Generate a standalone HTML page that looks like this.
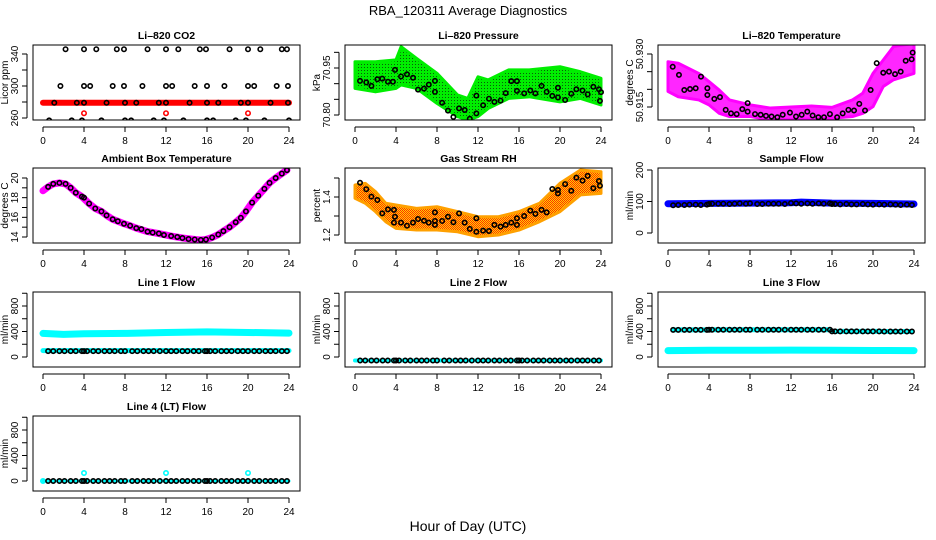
<!DOCTYPE html>
<html><head><meta charset="utf-8">
<style>
html,body{margin:0;padding:0;background:#fff;}
svg{display:block;font-family:"Liberation Sans",Arial,sans-serif;}
</style></head>
<body>
<svg id="chart" width="936" height="540" viewBox="0 0 936 540" xmlns="http://www.w3.org/2000/svg">
<defs>
<pattern id="greenDots" width="3" height="3" patternUnits="userSpaceOnUse"><rect width="3" height="3" fill="#00ee00"/><rect x="1" y="1" width="1" height="1" fill="#0a5a0a"/></pattern>
<pattern id="orangeDots" width="2" height="2" patternUnits="userSpaceOnUse"><rect width="2" height="2" fill="#ffd000"/><rect width="1" height="1" fill="#ff3000"/><rect x="1" y="1" width="1" height="1" fill="#ff3000"/></pattern>
</defs>
<text x="468" y="15" text-anchor="middle" font-size="13">RBA_120311  Average Diagnostics</text>
<text x="468" y="531" text-anchor="middle" font-size="14">Hour of Day (UTC)</text>
</svg>
<script>
// ---- data ----
const co2Hours340 = [2.2,4.0,5.2,7.2,7.9,10.2,12.0,13.2,15.3,15.9,18.2,20.0,21.2,23.3,23.8];
const co2Hours300 = [1.7,4.0,4.6,6.8,7.9,9.7,12.0,12.6,14.8,16.0,17.7,20.0,20.6,22.8,23.9];
const co2Hours280 = [1.1,3.3,4.0,6.2,8.0,9.1,11.3,12.0,14.3,16.0,17.1,19.3,20.0,22.2,23.9];
const co2Hours260 = [0.6,2.8,3.8,5.7,8.0,8.6,10.8,11.8,13.7,16.0,16.6,18.8,19.8,21.6,24.0];
const co2Levels = [346,300,279,257];
const co2RedBandHours = [0,24];
const co2RedBandValues = [279,279];
const co2RedOutlierHours = [4,12,20];
const co2RedOutlierValues = [266,266,266];

const presHours = [0.49,1.1,1.6,2.18,2.66,3.22,3.7,3.9,4.49,5.07,5.66,6.15,6.73,7.2,7.8,7.8,8.5,9.07,9.6,10.15,10.7,11.2,11.84,11.84,12.5,13.07,13.6,14.2,14.7,15.25,15.8,15.8,16.5,17.1,17.6,18.2,18.7,19.25,19.8,19.8,20.5,21.1,21.6,22.2,22.7,23.25,23.8,23.9,24.0];
const presValues = [70.909,70.904,70.893,70.914,70.916,70.906,70.906,70.944,70.923,70.930,70.919,70.881,70.884,70.897,70.909,70.874,70.839,70.814,70.794,70.821,70.816,70.788,70.805,70.862,70.831,70.852,70.842,70.846,70.870,70.908,70.908,70.877,70.869,70.878,70.869,70.893,70.874,70.861,70.856,70.887,70.848,70.868,70.882,70.878,70.866,70.890,70.882,70.845,70.873];
const presBandHours = [0,2,4,4.5,6,8,10,11,12,13,15,17,20,22,24];
const presBandUpper = [70.970,70.970,70.976,71.018,70.981,70.933,70.864,70.853,70.922,70.912,70.944,70.944,70.954,70.938,70.917];
const presBandLower = [70.885,70.874,70.885,70.896,70.885,70.837,70.795,70.784,70.795,70.821,70.853,70.858,70.842,70.853,70.832];

const tempHours = [0.46,1.07,1.59,2.15,2.7,3.22,3.84,3.84,4.52,5.07,5.63,6.15,6.7,7.25,7.77,7.77,8.49,9.04,9.56,10.1,10.67,11.19,11.9,12.49,13.04,13.59,14.11,14.67,15.22,15.8,16.5,17.04,17.6,18.15,18.66,19.22,19.77,20.36,21.0,21.56,22.15,22.7,23.19,23.77,23.87];
const tempValues = [50.9264,50.9241,50.9198,50.9201,50.9203,50.9236,50.9203,50.9184,50.9173,50.9178,50.9142,50.9132,50.9130,50.9144,50.9161,50.9137,50.9130,50.9128,50.9125,50.9123,50.9121,50.9128,50.9134,50.9123,50.9128,50.9137,50.9126,50.9121,50.9121,50.9130,50.9121,50.9132,50.9142,50.9140,50.9159,50.9140,50.9198,50.9274,50.9247,50.9250,50.9243,50.9250,50.9281,50.9285,50.9304];
const tempBandHours = [0,1,3,4,5,6,8,10,14,16,18,19,20,21,22,24];
const tempBandUpper = [50.9278,50.9274,50.9245,50.9222,50.9198,50.9170,50.9156,50.9147,50.9153,50.9149,50.9170,50.9189,50.9245,50.9283,50.9321,50.9330];
const tempBandLower = [50.9194,50.9179,50.9170,50.9156,50.9132,50.9123,50.9123,50.9114,50.9116,50.9118,50.9123,50.9132,50.9151,50.9208,50.9227,50.9245];

const ambHours = [0.5,1.0,1.6,2.2,2.7,3.2,3.8,4.0,4.5,5.1,5.7,6.2,6.8,7.3,7.9,8.5,9.1,9.6,10.2,10.7,11.3,11.8,12.5,13.1,13.6,14.2,14.8,15.4,15.9,16.5,17.1,17.6,18.2,18.8,19.3,19.8,20.4,21.0,21.6,22.1,22.7,23.3,23.8];
const ambValues = [19.1,19.4,19.5,19.4,19.0,18.5,18.1,18.0,17.4,16.9,16.6,16.2,15.8,15.6,15.35,15.15,14.9,14.8,14.55,14.45,14.35,14.2,14.1,14.0,13.9,13.8,13.75,13.7,13.75,13.95,14.25,14.6,15.0,15.5,15.95,16.6,17.5,18.2,18.9,19.5,20.0,20.45,20.8];
const ambBandHours = [0,0.5,1.0,1.6,2.2,2.7,3.2,3.8,4.5,5.1,5.7,6.2,6.8,7.3,7.9,8.5,9.1,10.2,11.3,12.5,13.6,14.8,15.4,15.9,16.5,17.1,17.6,18.2,18.8,19.3,19.8,20.4,21.0,21.6,22.1,22.7,23.3,23.8];
const ambBandValues = [18.7,19.1,19.4,19.5,19.4,19.0,18.5,18.1,17.4,16.9,16.6,16.2,15.8,15.6,15.35,15.15,14.9,14.55,14.35,14.1,13.9,13.75,13.7,13.75,13.95,14.25,14.6,15.0,15.5,15.95,16.6,17.5,18.2,18.9,19.5,20.0,20.45,20.8];

const rhHours = [0.49,1.1,1.6,2.18,2.66,3.22,3.8,3.9,3.8,4.49,5.07,5.66,6.15,6.73,7.2,7.8,7.8,7.8,8.5,9.07,9.6,10.15,10.7,11.2,11.84,11.84,12.5,13.07,13.6,14.2,14.7,15.25,15.8,15.8,16.5,17.1,17.6,18.2,18.7,19.25,19.8,19.8,20.5,21.1,21.6,22.2,22.7,23.25,23.8,23.9];
const rhValues = [1.475,1.441,1.402,1.384,1.314,1.335,1.332,1.296,1.265,1.265,1.249,1.265,1.284,1.275,1.265,1.274,1.253,1.319,1.274,1.296,1.267,1.314,1.265,1.232,1.217,1.288,1.223,1.221,1.253,1.244,1.253,1.265,1.288,1.253,1.300,1.328,1.311,1.332,1.319,1.442,1.437,1.419,1.468,1.433,1.502,1.486,1.511,1.446,1.484,1.459];
const rhBandHours = [0,1,2,3,4,6,8,10,12,14,16,18,20,22,24];
const rhBandUpper = [1.463,1.472,1.428,1.367,1.358,1.340,1.349,1.323,1.296,1.296,1.323,1.367,1.472,1.542,1.533];
const rhBandLower = [1.393,1.367,1.323,1.270,1.235,1.226,1.226,1.217,1.191,1.200,1.226,1.270,1.323,1.411,1.419];

const flowHours = [0.5,1.0,1.6,2.1,2.7,3.2,3.8,4.0,4.3,4.9,5.4,6.0,6.5,7.0,7.6,8.0,8.7,9.2,9.8,10.3,10.8,11.4,12.0,12.5,13.0,13.6,14.1,14.7,15.2,15.8,16.0,16.3,16.8,17.4,17.9,18.4,19.0,19.5,20.0,20.6,21.1,21.7,22.2,22.7,23.3,23.8];
const sampleValues = [88,89,89,90,90,89,90,92,93,93,93,92,93,94,93,94,92,92,93,93,93,92,95,94,93,94,93,94,93,94,92,92,91,92,91,91,92,91,90,91,90,91,90,89,90,89];
const sampleBandHours = [0,4,8,12,13,16,20,24];
const sampleBandValues = [93,94,95,96,98,95,94,92];
const line1Black = [92,92,92,92,92,92,92,92,92,92,92,92,92,92,92,92,92,92,92,92,92,92,92,92,92,92,92,92,92,92,92,92,92,92,92,92,92,92,92,92,92,92,92,92,92,92];
const line1CyanHours = [0,2,4,8,12,16,20,24];
const line1CyanUpper = [370,355,365,370,385,395,385,375];
const line1CyanLower = [100,100,100,100,100,100,100,100];
const line2Black = [-55,-55,-55,-55,-55,-55,-55,-55,-55,-55,-55,-55,-55,-55,-55,-55,-55,-55,-55,-55,-55,-55,-55,-55,-55,-55,-55,-55,-55,-55,-55,-55,-55,-55,-55,-55,-55,-55,-55,-55,-55,-55,-55,-55,-55,-55];
const line3Black = [425,425,425,425,425,425,425,428,428,428,428,428,428,428,428,428,428,428,428,428,428,428,428,428,428,428,428,428,428,428,402,402,402,402,402,402,402,402,402,402,400,400,400,400,400,400];
const line3CyanHours = [0,4,8,12,16,20,24];
const line3CyanValues = [100,105,105,108,105,102,100];
const line4Black = [0,0,0,0,0,0,0,0,0,0,0,0,0,0,0,0,0,0,0,0,0,0,0,0,0,0,0,0,0,0,0,0,0,0,0,0,0,0,0,0,0,0,0,0,0,0];
const line4CyanHours = [0,4,12,20];
const line4CyanValues = [0,125,125,125];
const xTicks = [0,4,8,12,16,20,24];

// ---- drawing ----
const NS = "http://www.w3.org/2000/svg";
const svg = document.getElementById('chart');
const colLeft = [33,345,658], rowTop = [45,168,292,416], BW = 267, BH = 75;
function mk(tag, attrs, parent){ const e=document.createElementNS(NS,tag); for(const k in attrs) e.setAttribute(k,attrs[k]); (parent||svg).appendChild(e); return e; }

function panel(col,row,cfg){
  const L=colLeft[col], T=rowTop[row];
  const g = mk('g',{});
  
  
  const xs = h => L+10+h/24*246;
  const ys = v => T + cfg.ya[1] + (v-cfg.ya[0])/(cfg.yb[0]-cfg.ya[0])*(cfg.yb[1]-cfg.ya[1]);
  const cid = 'clip'+col+row;
  const cp = mk('clipPath',{id:cid},g); mk('rect',{x:L,y:T,width:BW,height:BH},cp);
  const plot = mk('g',{'clip-path':'url(#'+cid+')'},g);
  const box = mk('rect',{x:L,y:T,width:BW,height:BH,fill:'none',stroke:'#000','stroke-width':1},g);
  
  
  const t = mk('text',{x:L+BW/2,y:T-6,'text-anchor':'middle','font-size':10.5,'font-weight':'bold'},g);
  t.textContent = cfg.title;
  
  
  const ax = mk('g',{},g);
  
  
  const ay0 = T+BH+7;
  mk('line',{x1:xs(0),x2:xs(24),y1:ay0,y2:ay0,stroke:'#000'},ax);
  xTicks.forEach(v=>{
    mk('line',{x1:xs(v),x2:xs(v),y1:ay0,y2:ay0+5,stroke:'#000'},ax);
    const lt = mk('text',{x:xs(v),y:ay0+17,'text-anchor':'middle','font-size':10},ax);
    lt.textContent = v;
    
    
  });
  const yax = mk('g',{},g);
  
  
  const axX = L-6;
  const tv = cfg.ticks;
  mk('line',{x1:axX,x2:axX,y1:ys(tv[0]),y2:ys(tv[tv.length-1]),stroke:'#000'},yax);
  tv.forEach(v=>{
    mk('line',{x1:axX,x2:axX-5,y1:ys(v),y2:ys(v),stroke:'#000'},yax);
  });
  cfg.labels.forEach((lab,i)=>{
    const v = cfg.labelVals[i];
    const lt = mk('text',{x:0,y:0,'text-anchor':'middle','font-size':10,transform:'translate('+(L-15)+','+ys(v)+') rotate(-90)'},yax);
    lt.textContent = lab;
    
    
  });
  const yl = mk('text',{x:0,y:0,'text-anchor':'middle','font-size':10,transform:'translate('+(L-25)+','+(T+BH/2)+') rotate(-90)'},g);
  yl.textContent = cfg.ylab;
  
  
  return {plot,xs,ys};
}
function band(p, hrs, up, lo, fill, name, op){
  let d='M'+hrs.map((h,i)=>p.xs(h)+','+p.ys(up[i])).join(' L');
  for(let i=hrs.length-1;i>=0;i--) d+=' L'+p.xs(hrs[i])+','+p.ys(lo[i]);
  const e = mk('path',{d:d+'Z',fill:fill,'fill-opacity':op||1,stroke:fill==='url(#greenDots)'?'#00ee00':(fill==='url(#orangeDots)'?'#ffa000':fill),'stroke-width':3,'stroke-linejoin':'round'},p.plot);
  
  
}
function thick(p, hrs, vals, color, w, name){
  const e = mk('polyline',{points:hrs.map((h,i)=>p.xs(h)+','+p.ys(vals[i])).join(' '),fill:'none',stroke:color,'stroke-width':w,'stroke-linejoin':'round','stroke-linecap':'round'},p.plot);
  
  
}
function pts(p, hrs, vals, color, name){
  hrs.forEach((h,i)=>{
    const c = mk('circle',{cx:p.xs(h),cy:p.ys(vals[i]),r:2.2,fill:'none',stroke:color,'stroke-width':1.6},p.plot);
    
    
  });
}
const flowTicks=[0,200,400,600,800,1000];

let p = panel(0,0,{name:'co2-panel',title:'Li\u2013820 CO2',ylab:'Licor ppm',ya:[340,9],yb:[260,73],ticks:[260,280,300,320,340],labels:['260','300','340'],labelVals:[260,300,340]});
thick(p, co2RedBandHours, co2RedBandValues, '#ff0000', 6, 'co2-red-band');
pts(p, co2RedOutlierHours, co2RedOutlierValues, '#ff0000', 'co2-red-point');
[co2Hours340,co2Hours300,co2Hours280,co2Hours260].forEach((hs,k)=>{ pts(p, hs, hs.map(()=>co2Levels[k]), '#000', 'co2-point'); });

p = panel(1,0,{name:'pressure-panel',title:'Li\u2013820 Pressure',ylab:'kPa',ya:[70.95,23],yb:[70.80,70],ticks:[70.80,70.85,70.90,70.95,71.00],labels:['70.80','70.95'],labelVals:[70.80,70.95]});
band(p, presBandHours, presBandUpper, presBandLower, 'url(#greenDots)', 'pressure-green-band');
pts(p, presHours, presValues, '#000', 'pressure-point');

p = panel(2,0,{name:'temperature-panel',title:'Li\u2013820 Temperature',ylab:'degrees C',ya:[50.930,9],yb:[50.915,62],ticks:[50.915,50.920,50.925,50.930],labels:['50.915','50.930'],labelVals:[50.915,50.930]});
band(p, tempBandHours, tempBandUpper, tempBandLower, '#ff00ff', 'temperature-magenta-band', 0.85);
pts(p, tempHours, tempValues, '#000', 'temperature-point');

p = panel(0,1,{name:'ambient-panel',title:'Ambient Box Temperature',ylab:'degrees C',ya:[20,10],yb:[14,69],ticks:[14,15,16,17,18,19,20],labels:['14','16','18','20'],labelVals:[14,16,18,20]});
thick(p, ambBandHours, ambBandValues, '#ff00ff', 7, 'ambient-magenta-band');
pts(p, ambHours, ambValues, '#000', 'ambient-point');

p = panel(1,1,{name:'rh-panel',title:'Gas Stream RH',ylab:'percent',ya:[1.4,29],yb:[1.2,67],ticks:[1.2,1.3,1.4,1.5],labels:['1.2','1.4'],labelVals:[1.2,1.4]});
band(p, rhBandHours, rhBandUpper, rhBandLower, 'url(#orangeDots)', 'rh-orange-band');
pts(p, rhHours, rhValues, '#000', 'rh-point');

p = panel(2,1,{name:'sample-flow-panel',title:'Sample Flow',ylab:'ml/min',ya:[200,2],yb:[0,65],ticks:[0,100,200],labels:['0','100','200'],labelVals:[0,100,200]});
thick(p, sampleBandHours, sampleBandValues, '#0000ff', 7, 'sample-blue-band');
pts(p, flowHours, sampleValues, '#000', 'sample-point');

p = panel(0,2,{name:'line1-panel',title:'Line 1 Flow',ylab:'ml/min',ya:[400,39.5],yb:[0,65],ticks:flowTicks,labels:['0','400','800'],labelVals:[0,400,800]});
thick(p, line1CyanHours, line1CyanUpper, '#00ffff', 7, 'line1-cyan-upper');
thick(p, line1CyanHours, line1CyanLower, '#00ffff', 5, 'line1-cyan-lower');
pts(p, flowHours, line1Black, '#000', 'line1-point');

p = panel(1,2,{name:'line2-panel',title:'Line 2 Flow',ylab:'ml/min',ya:[400,39.5],yb:[0,65],ticks:flowTicks,labels:['0','400','800'],labelVals:[0,400,800]});
thick(p, [0,24], [-55,-55], '#00ffff', 4, 'line2-cyan');
pts(p, flowHours, line2Black, '#000', 'line2-point');

p = panel(2,2,{name:'line3-panel',title:'Line 3 Flow',ylab:'ml/min',ya:[400,39.5],yb:[0,65],ticks:flowTicks,labels:['0','400','800'],labelVals:[0,400,800]});
thick(p, line3CyanHours, line3CyanValues, '#00ffff', 7, 'line3-cyan-band');
thick(p, flowHours, line3Black, '#00ffff', 5, 'line3-cyan-under');
pts(p, flowHours, line3Black, '#000', 'line3-point');

p = panel(0,3,{name:'line4-panel',title:'Line 4 (LT) Flow',ylab:'ml/min',ya:[400,39.5],yb:[0,65],ticks:flowTicks,labels:['0','400','800'],labelVals:[0,400,800]});
thick(p, [0,24], [0,0], '#00ffff', 3, 'line4-cyan');
pts(p, line4CyanHours, line4CyanValues, '#00ffff', 'line4-cyan-point');
pts(p, flowHours, line4Black, '#000', 'line4-point');
</script>
</body></html>
